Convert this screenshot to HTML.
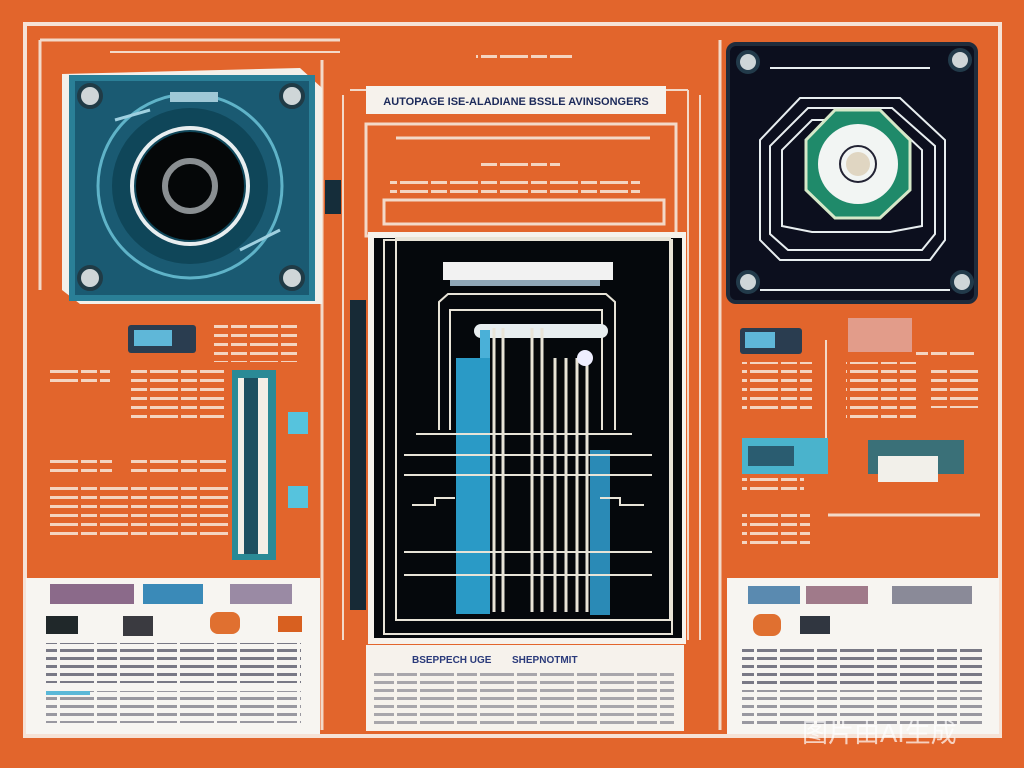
<!DOCTYPE html>
<html><head><meta charset="utf-8"><style>
html,body{margin:0;padding:0;width:1024px;height:768px;overflow:hidden;background:#e2652c}
svg{display:block}
text{font-family:"Liberation Sans","Noto Sans CJK SC",sans-serif}
</style></head><body>
<svg width="1024" height="768" viewBox="0 0 1024 768" xmlns="http://www.w3.org/2000/svg">
<defs>
<pattern id="txt" width="60" height="8" patternUnits="userSpaceOnUse">
<rect x="0" y="1" width="34" height="3" fill="#5a5a6a"/><rect x="37" y="1" width="20" height="3" fill="#5a5a6a"/>
</pattern>
<pattern id="txtw" width="50" height="9" patternUnits="userSpaceOnUse">
<rect x="0" y="1" width="28" height="3" fill="#f4d4c0"/><rect x="31" y="1" width="16" height="3" fill="#f4d4c0"/>
</pattern>
</defs>
<rect width="1024" height="768" fill="#e2652c"/>
<rect x="25" y="24" width="975" height="712" fill="none" stroke="#f6e2d6" stroke-width="4"/>
<line x1="40" y1="40" x2="340" y2="40" stroke="#f3d9c8" stroke-width="3"/>
<line x1="40" y1="40" x2="40" y2="290" stroke="#f3d9c8" stroke-width="3"/>
<line x1="110" y1="52" x2="340" y2="52" stroke="#f3d9c8" stroke-width="2"/>
<line x1="322" y1="60" x2="322" y2="730" stroke="#f3d9c8" stroke-width="3"/>
<line x1="343" y1="95" x2="343" y2="640" stroke="#f3d9c8" stroke-width="2"/>
<line x1="700" y1="95" x2="700" y2="640" stroke="#f3d9c8" stroke-width="2"/>
<line x1="720" y1="40" x2="720" y2="730" stroke="#f3d9c8" stroke-width="3"/>
<line x1="350" y1="90" x2="688" y2="90" stroke="#f3d9c8" stroke-width="2"/>
<line x1="688" y1="90" x2="688" y2="640" stroke="#f3d9c8" stroke-width="2"/>

<!-- left chip -->
<polygon points="62,74 300,68 322,88 322,304 80,304 62,290" fill="#f3f0ea"/>
<rect x="72" y="78" width="240" height="220" fill="#1a5a72"/>
<rect x="72" y="78" width="240" height="220" fill="none" stroke="#2a7f97" stroke-width="6"/>
<circle cx="190" cy="186" r="92" fill="none" stroke="#5fb3c8" stroke-width="3"/>
<circle cx="190" cy="186" r="78" fill="#0f4659"/>
<circle cx="190" cy="186" r="58" fill="none" stroke="#e8eef0" stroke-width="4"/>
<circle cx="190" cy="186" r="54" fill="#050708"/>
<circle cx="190" cy="186" r="25" fill="none" stroke="#8a8f92" stroke-width="6"/>
<g fill="#cfd6d8" stroke="#203b46" stroke-width="4"><circle cx="90" cy="96" r="11"/><circle cx="292" cy="96" r="11"/><circle cx="90" cy="278" r="11"/><circle cx="292" cy="278" r="11"/></g>
<rect x="170" y="92" width="48" height="10" fill="#9fc8d6"/>
<line x1="115" y1="120" x2="150" y2="110" stroke="#9fd0e0" stroke-width="3"/>
<line x1="240" y1="250" x2="280" y2="230" stroke="#9fd0e0" stroke-width="3"/>
<rect x="325" y="180" width="16" height="34" fill="#152d3a"/>

<rect x="128" y="325" width="68" height="28" rx="3" fill="#2a3d50"/>
<rect x="134" y="330" width="38" height="16" fill="#5fb7d8"/>
<rect x="214" y="322" width="84" height="40" fill="url(#txtw)"/>
<rect x="50" y="370" width="60" height="18" fill="url(#txtw)"/>
<rect x="128" y="368" width="96" height="50" fill="url(#txtw)"/>
<rect x="48" y="458" width="64" height="18" fill="url(#txtw)"/>
<rect x="130" y="460" width="96" height="18" fill="url(#txtw)"/>
<rect x="48" y="484" width="180" height="56" fill="url(#txtw)"/>
<rect x="232" y="370" width="44" height="190" fill="#2a8a96"/>
<rect x="238" y="378" width="30" height="176" fill="#f3eee6"/>
<rect x="244" y="378" width="14" height="176" fill="#1d4f60"/>
<rect x="288" y="412" width="20" height="22" fill="#56c3dd"/>
<rect x="288" y="486" width="20" height="22" fill="#56c3dd"/>
<rect x="350" y="300" width="16" height="310" fill="#172a36"/>

<rect x="366" y="86" width="300" height="28" fill="#f6f2ec"/>
<text x="516" y="105" font-size="11" font-weight="bold" text-anchor="middle" fill="#1c2a5a">AUTOPAGE ISE-ALADIANE BSSLE AVINSONGERS</text>
<rect x="476" y="50" width="96" height="8" fill="url(#txtw)"/>
<rect x="366" y="124" width="310" height="112" fill="none" stroke="#f3d9c8" stroke-width="3"/>
<line x1="396" y1="138" x2="650" y2="138" stroke="#f3d9c8" stroke-width="3"/>
<rect x="480" y="158" width="80" height="8" fill="url(#txtw)"/>
<rect x="390" y="180" width="250" height="18" fill="url(#txtw)"/>
<rect x="384" y="200" width="280" height="24" fill="none" stroke="#f3d9c8" stroke-width="3"/>

<rect x="368" y="232" width="318" height="412" fill="#f6f2ec"/>
<rect x="374" y="238" width="308" height="400" fill="#05080c"/>
<rect x="384" y="240" width="288" height="394" fill="none" stroke="#e8e4d8" stroke-width="2"/>
<rect x="396" y="238" width="274" height="382" fill="none" stroke="#e8e4d8" stroke-width="2"/>
<rect x="443" y="262" width="170" height="18" fill="#f2f2f2"/>
<rect x="450" y="280" width="150" height="6" fill="#8fa6b6"/>
<polyline points="439,430 439,302 448,294 606,294 615,302 615,430" fill="none" stroke="#e8e4d8" stroke-width="2"/>
<polyline points="450,430 450,310 602,310 602,430" fill="none" stroke="#e8e4d8" stroke-width="2"/>
<rect x="474" y="324" width="134" height="14" rx="7" fill="#e8eef0"/>
<rect x="456" y="358" width="34" height="256" fill="#2a9ac6"/>
<rect x="480" y="330" width="10" height="28" fill="#4ab0d8"/>
<rect x="590" y="450" width="20" height="165" fill="#2a8ab6"/>
<g stroke="#e8e4d8" stroke-width="3">
<line x1="494" y1="328" x2="494" y2="612"/><line x1="503" y1="328" x2="503" y2="612"/>
<line x1="532" y1="328" x2="532" y2="612"/><line x1="542" y1="328" x2="542" y2="612"/>
<line x1="555" y1="358" x2="555" y2="612"/><line x1="566" y1="358" x2="566" y2="612"/>
<line x1="577" y1="358" x2="577" y2="612"/><line x1="587" y1="358" x2="587" y2="612"/>
</g>
<circle cx="585" cy="358" r="8" fill="#eef"/>
<g stroke="#e8e4d8" stroke-width="2" fill="none">
<line x1="416" y1="434" x2="632" y2="434"/>
<line x1="404" y1="455" x2="652" y2="455"/>
<line x1="404" y1="475" x2="652" y2="475"/>
<polyline points="412,505 435,505 435,498 455,498"/>
<polyline points="644,505 620,505 620,498 600,498"/>
<line x1="404" y1="552" x2="652" y2="552"/>
<line x1="404" y1="575" x2="652" y2="575"/>
</g>
<rect x="366" y="645" width="318" height="86" fill="#f6f2ec"/>
<text x="412" y="663" font-size="10" font-weight="bold" fill="#2a3a7a">BSEPPECH UGE</text>
<text x="512" y="663" font-size="10" font-weight="bold" fill="#2a3a7a">SHEPNOTMIT</text>
<rect x="374" y="672" width="300" height="52" fill="url(#txt)" opacity="0.5"/>

<rect x="728" y="44" width="248" height="258" rx="8" fill="#0c0f1e"/>
<rect x="728" y="44" width="248" height="258" rx="8" fill="none" stroke="#1f2c3c" stroke-width="4"/>
<g fill="none" stroke="#e8eef0" stroke-width="2">
<polygon points="800,98 900,98 945,140 945,240 930,260 780,260 760,240 760,140"/>
<polygon points="808,108 892,108 935,146 935,234 922,250 788,250 770,234 770,146"/>
<polygon points="812,120 890,120 922,150 922,226 890,232 812,232 782,226 782,150"/>
<line x1="770" y1="68" x2="930" y2="68"/>
<line x1="760" y1="290" x2="950" y2="290"/>
</g>
<polygon points="835,110 880,110 910,140 910,190 880,218 835,218 806,190 806,140" fill="#1f8a6a" stroke="#d5e8c8" stroke-width="3"/>
<circle cx="858" cy="164" r="40" fill="#f2f5f3"/>
<circle cx="858" cy="164" r="18" fill="none" stroke="#223" stroke-width="2"/>
<circle cx="858" cy="164" r="12" fill="#e0d6c2"/>
<g fill="#cfd6d8" stroke="#223a4a" stroke-width="4"><circle cx="748" cy="62" r="10"/><circle cx="960" cy="60" r="10"/><circle cx="748" cy="282" r="10"/><circle cx="962" cy="282" r="10"/></g>

<rect x="740" y="328" width="62" height="26" rx="3" fill="#2a3d50"/>
<rect x="745" y="332" width="30" height="16" fill="#5fb7d8"/>
<rect x="848" y="318" width="64" height="34" fill="#e29c8a"/>
<rect x="916" y="348" width="58" height="10" fill="url(#txtw)"/>
<rect x="742" y="362" width="70" height="50" fill="url(#txtw)"/>
<rect x="846" y="362" width="70" height="56" fill="url(#txtw)"/>
<rect x="930" y="364" width="50" height="44" fill="url(#txtw)"/>
<line x1="826" y1="340" x2="826" y2="470" stroke="#f3d9c8" stroke-width="2"/>
<rect x="742" y="438" width="86" height="36" fill="#4ab3cc"/>
<rect x="748" y="446" width="46" height="20" fill="#2a5c70"/>
<rect x="868" y="440" width="96" height="34" fill="#3a7078"/>
<rect x="878" y="456" width="60" height="26" fill="#f2f0ea"/>
<rect x="742" y="478" width="62" height="16" fill="url(#txtw)"/>
<rect x="742" y="508" width="68" height="40" fill="url(#txtw)"/>
<line x1="828" y1="515" x2="980" y2="515" stroke="#f3d9c8" stroke-width="3"/>

<rect x="26" y="578" width="294" height="156" fill="#f7f5f1"/>
<rect x="50" y="584" width="84" height="20" fill="#8b6a8a"/>
<rect x="143" y="584" width="60" height="20" fill="#3a8ab8"/>
<rect x="230" y="584" width="62" height="20" fill="#9a8aa4"/>
<rect x="46" y="616" width="32" height="18" fill="#20282a"/>
<rect x="123" y="616" width="30" height="20" fill="#3a3a40"/>
<rect x="210" y="612" width="30" height="22" rx="8" fill="#e07030"/>
<rect x="278" y="616" width="24" height="16" fill="#d86020"/>
<rect x="46" y="643" width="255" height="40" fill="url(#txt)" opacity="0.8"/>
<rect x="46" y="691" width="255" height="32" fill="url(#txt)" opacity="0.6"/>
<rect x="46" y="691" width="44" height="4" fill="#5ab8d8"/>

<rect x="727" y="578" width="272" height="156" fill="#f7f5f1"/>
<rect x="748" y="586" width="52" height="18" fill="#5a8ab0"/>
<rect x="806" y="586" width="62" height="18" fill="#a07a8a"/>
<rect x="892" y="586" width="80" height="18" fill="#8a8a98"/>
<rect x="753" y="614" width="28" height="22" rx="8" fill="#e07030"/>
<rect x="800" y="616" width="30" height="18" fill="#303640"/>
<rect x="742" y="644" width="240" height="40" fill="url(#txt)" opacity="0.8"/>
<rect x="742" y="690" width="240" height="34" fill="url(#txt)" opacity="0.6"/>

<text x="802" y="742" font-size="26" fill="#ffffff" fill-opacity="0.7">图片由AI生成</text>
</svg>
</body></html>
